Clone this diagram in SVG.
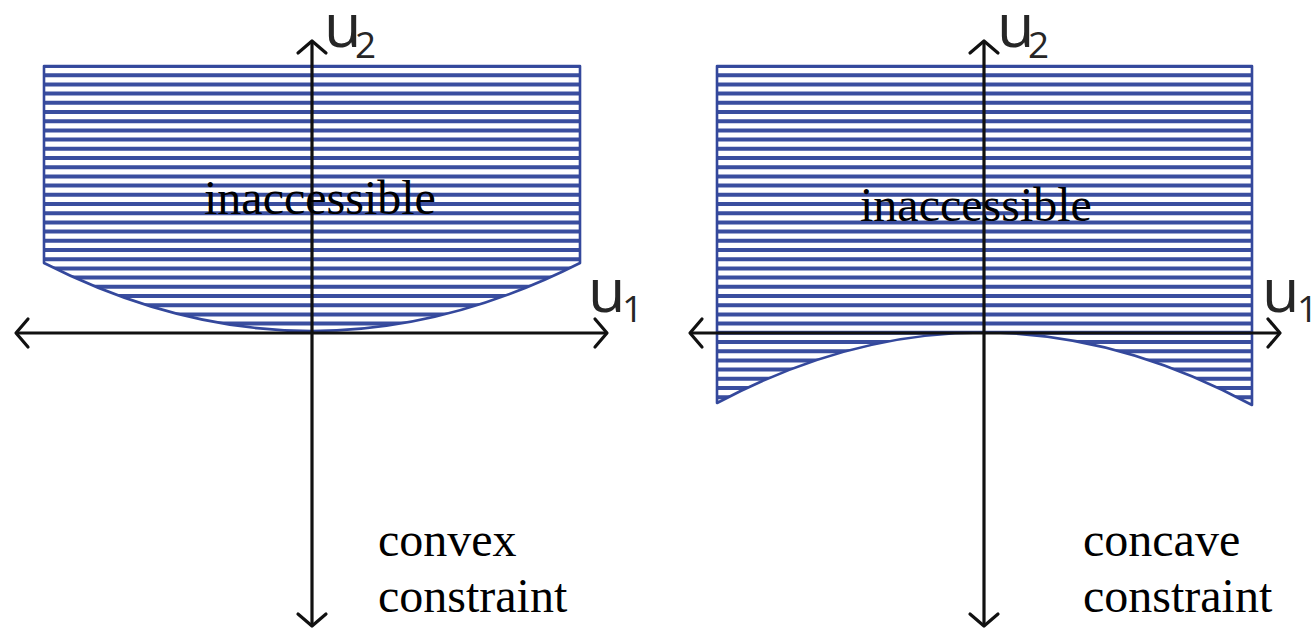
<svg xmlns="http://www.w3.org/2000/svg" xmlns:xlink="http://www.w3.org/1999/xlink" width="1314" height="629" viewBox="0 0 1314 629">
  <style>
    .region { fill: none; stroke: #34489c; stroke-width: 2.6; stroke-linejoin: round; }
    .hatch { fill: none; stroke: #3a4e9f; stroke-width: 4; }
    .axis { fill: none; stroke: #111; stroke-width: 3.2; marker-start: url(#chev); marker-end: url(#chev); }
    .lbl { font-family: "Liberation Serif", "Times New Roman", serif; font-size: 48px; fill: #000; }
    .var { font-family: "Open Sans", "Noto Sans", sans-serif; fill: #262626; }
    .big { font-size: 61px; }
    .sub { font-size: 37px; }
  </style>
  <defs>
    <marker id="chev" markerUnits="userSpaceOnUse" viewBox="-16 -17 20 34" markerWidth="20" markerHeight="34" refX="0" refY="0" orient="auto-start-reverse" overflow="visible">
      <path d="M-12,-14 L0,0 L-12,14" fill="none" stroke="#111" stroke-width="3.2" stroke-linejoin="round" stroke-linecap="round"/>
    </marker>
    <path id="hatchLines" d="M0,66H1314 M0,75.2H1314 M0,84.4H1314 M0,93.6H1314 M0,102.8H1314 M0,112H1314 M0,121.2H1314 M0,130.4H1314 M0,139.6H1314 M0,148.8H1314 M0,158H1314 M0,167.2H1314 M0,176.4H1314 M0,185.6H1314 M0,194.8H1314 M0,204H1314 M0,213.2H1314 M0,222.4H1314 M0,231.6H1314 M0,240.8H1314 M0,250H1314 M0,259.2H1314 M0,268.4H1314 M0,277.6H1314 M0,286.8H1314 M0,296H1314 M0,305.2H1314 M0,314.4H1314 M0,323.6H1314 M0,332.8H1314 M0,342H1314 M0,351.2H1314 M0,360.4H1314 M0,369.6H1314 M0,378.8H1314 M0,388H1314 M0,397.2H1314 M0,406.4H1314"/>
    <clipPath id="clipConvex"><path d="M44,66 H580 V263 Q312,399 44,263 Z"/></clipPath>
    <clipPath id="clipConcave"><path d="M717,66 H1252 V405 Q984.5,261 717,403 Z"/></clipPath>
  </defs>

  <g id="convex-region">
    <use xlink:href="#hatchLines" class="hatch" clip-path="url(#clipConvex)"/>
    <path class="region" d="M44,66 H580 V263 Q312,399 44,263 Z"/>
  </g>

  <g id="concave-region">
    <use xlink:href="#hatchLines" class="hatch" clip-path="url(#clipConcave)"/>
    <path class="region" d="M717,66 H1252 V405 Q984.5,261 717,403 Z"/>
  </g>

  <g id="connectors">
    <path class="axis" d="M16,333 H607"/>
    <path class="axis" d="M312,41 V626"/>
    <path class="axis" d="M690,333 H1280"/>
    <path class="axis" d="M984,41 V626"/>
  </g>

  <g id="convex-labels">
    <text class="var big" x="324" y="47">u</text>
    <text class="var sub" x="355" y="58">2</text>
    <text class="var big" x="588" y="312">u</text>
    <text class="var sub" x="622" y="322">1</text>
    <text class="lbl" x="204" y="214">inaccessible</text>
    <text class="lbl" x="378" y="556">convex</text>
    <text class="lbl" x="378" y="612">constraint</text>
  </g>

  <g id="concave-labels">
    <text class="var big" x="997" y="47">u</text>
    <text class="var sub" x="1028" y="58">2</text>
    <text class="var big" x="1262" y="312">u</text>
    <text class="var sub" x="1297" y="322">1</text>
    <text class="lbl" x="860" y="221">inaccessible</text>
    <text class="lbl" x="1083" y="556">concave</text>
    <text class="lbl" x="1083" y="612">constraint</text>
  </g>
</svg>
